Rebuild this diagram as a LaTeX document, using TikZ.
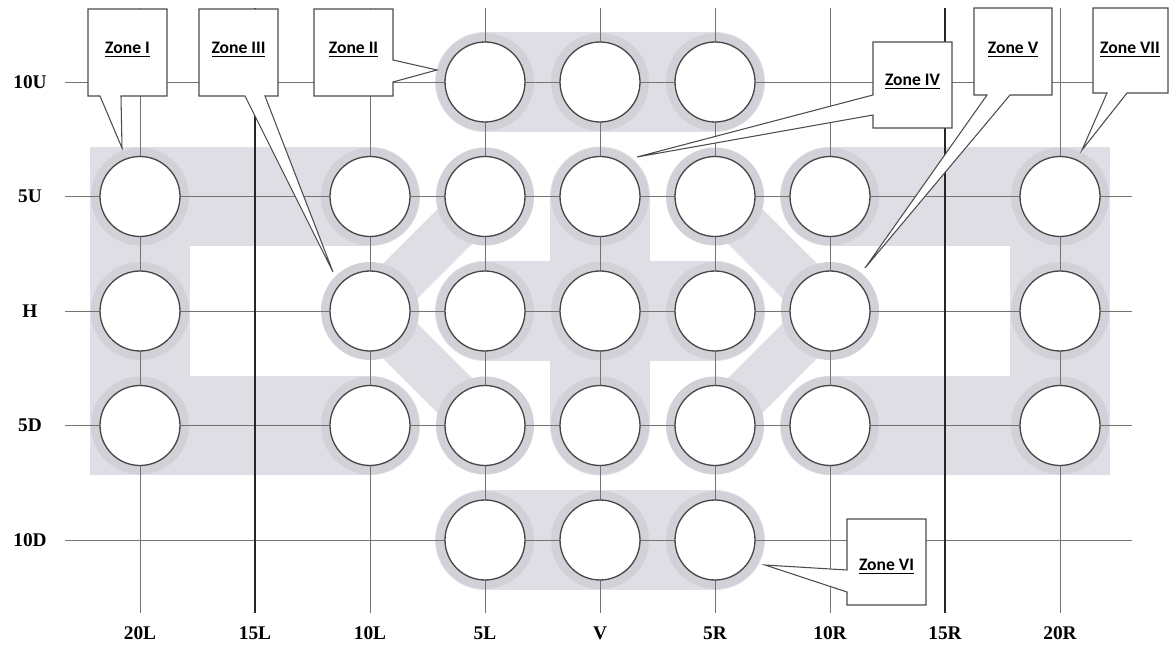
\documentclass[tikz,border=0pt]{standalone}
\usepackage{fontspec}
\setmainfont{Liberation Serif}
\newfontfamily\zonefont{Carlito}
\definecolor{zonefill}{RGB}{222,222,228}
\definecolor{halocol}{RGB}{209,209,215}
\tikzset{
  zoneband/.style={draw=zonefill, line width=2cm, line cap=round, line join=miter},
  diagband/.style={draw=zonefill, line width=0.98cm, line cap=round, line join=round},
  halo/.style={fill=halocol},
  spot/.style={circle, draw=black!72, line width=0.75pt, fill=white, minimum size=1.6cm, inner sep=0pt},
  gridline/.style={draw=black!55, line width=0.55pt},
  darkline/.style={draw=black!85, line width=0.8pt},
  axislabel/.style={font=\fontsize{11}{13}\selectfont\bfseries, inner sep=0pt},
  callout/.style={draw=black!70, line width=0.6pt, fill=white, line join=miter},
  zonetext/.style={font=\zonefont\fontsize{10}{12}\selectfont\bfseries, inner sep=0pt}
}
\begin{document}
\begin{tikzpicture}[x=0.02cm,y=0.02cm]
\useasboundingbox (0,0) rectangle (1169,646);
\fill[white] (0,0) rectangle (1169,646);
% grid coordinates
\foreach \c in {0,...,8} {
  \foreach \r in {0,...,4} {
    \coordinate (p\c\r) at ({140+115*\c},{564-114.5*\r});
  }
}
% zones
\draw[zoneband] (p21) -- (p01) -- (p03) -- (p23);   % Zone I
\draw[zoneband] (p61) -- (p81) -- (p83) -- (p63);   % Zone VII
\draw[zoneband] (p30) -- (p50);                     % Zone II
\draw[zoneband] (p34) -- (p54);                     % Zone VI
\draw[zoneband] (p41) -- (p43);                     % Zone IV
\draw[zoneband] (p32) -- (p52);
\draw[diagband] (p31) -- (p22) -- (p33);            % Zone III
\draw[diagband] (p51) -- (p62) -- (p53);            % Zone V
% halos
\foreach \c/\r in {3/0,4/0,5/0,
  0/1,2/1,3/1,4/1,5/1,6/1,8/1,
  0/2,2/2,3/2,4/2,5/2,6/2,8/2,
  0/3,2/3,3/3,4/3,5/3,6/3,8/3,
  3/4,4/4,5/4} {
  \fill[halo] (p\c\r) circle (49);
}
% grid lines
\foreach \r in {0,...,4} {
  \coordinate (hw\r) at (65,{564-114.5*\r});
  \coordinate (he\r) at (1132,{564-114.5*\r});
  \draw[gridline] (hw\r) -- (he\r);
}
\foreach \c in {0,...,8} {
  \coordinate (vt\c) at ({140+115*\c},638);
  \coordinate (vb\c) at ({140+115*\c},33);
}
\foreach \c in {0,2,3,4,5,6,8} {
  \draw[gridline] (vt\c) -- (vb\c);
}
\draw[darkline] (vt1) -- (vb1);
\draw[darkline] (vt7) -- (vb7);
% circles
\foreach \c/\r in {3/0,4/0,5/0,
  0/1,2/1,3/1,4/1,5/1,6/1,8/1,
  0/2,2/2,3/2,4/2,5/2,6/2,8/2,
  0/3,2/3,3/3,4/3,5/3,6/3,8/3,
  3/4,4/4,5/4} {
  \node[spot] (n\c\r) at (p\c\r) {};
}
% row labels
\foreach \r/\t in {0/10U,1/5U,2/H,3/5D,4/10D} {
  \node[axislabel] (row\r) at (30,{564-114.5*\r}) {\t};
}
% column labels
\foreach \c/\t in {0/20L,1/15L,2/10L,3/5L,4/V,5/5R,6/10R,7/15R,8/20R} {
  \node[axislabel] (col\c) at ({140+115*\c},13) {\t};
}
% callouts
\draw[callout] (88,637) -- (167,637) -- (167,550) -- (121,550) -- (122,498) -- (100,550) -- (88,550) -- cycle;
\node[zonetext] (zI) at (127.5,596) {\underline{Zone I}};
\draw[callout] (199,637) -- (278,637) -- (278,550) -- (265,550) -- (333,374) -- (245,550) -- (199,550) -- cycle;
\node[zonetext] (zIII) at (238.5,596) {\underline{Zone III}};
\draw[callout] (314,637) -- (393,637) -- (393,586) -- (437,576) -- (393,564) -- (393,550) -- (314,550) -- cycle;
\node[zonetext] (zII) at (353.5,596) {\underline{Zone II}};
\draw[callout] (873,604) -- (952,604) -- (952,518) -- (873,518) -- (873,531) -- (637,489) -- (873,551) -- cycle;
\node[zonetext] (zIV) at (912.5,564) {\underline{Zone IV}};
\draw[callout] (974,638) -- (1052,638) -- (1052,551) -- (1010,551) -- (865,378) -- (987,551) -- (974,551) -- cycle;
\node[zonetext] (zV) at (1013,596) {\underline{Zone V}};
\draw[callout] (1093,638) -- (1168,638) -- (1168,553) -- (1127,553) -- (1082,496) -- (1107,553) -- (1093,553) -- cycle;
\node[zonetext] (zVII) at (1130,596) {\underline{Zone VII}};
\draw[callout] (847,127) -- (926,127) -- (926,41) -- (847,41) -- (847,54) -- (765,81) -- (847,76) -- cycle;
\node[zonetext] (zVI) at (886.5,79) {\underline{Zone VI}};
\end{tikzpicture}
\end{document}
